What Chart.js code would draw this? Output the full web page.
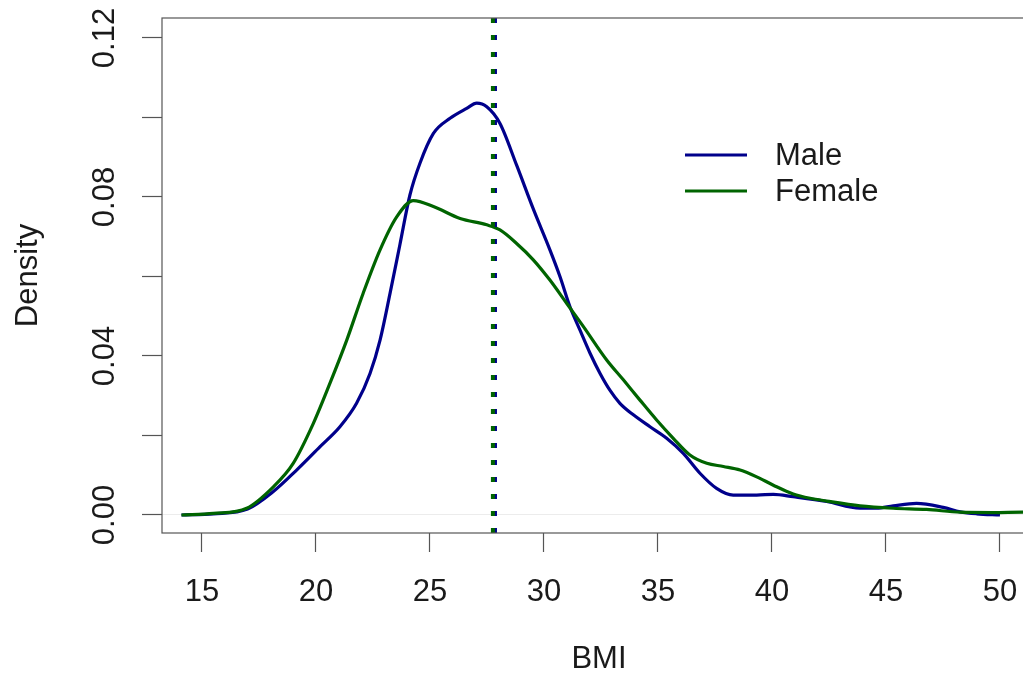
<!DOCTYPE html>
<html>
<head>
<meta charset="utf-8">
<title>BMI density by sex</title>
<script src="https://cdn.jsdelivr.net/npm/chart.js@4.4.0/dist/chart.umd.min.js"></script>
<style>
  html, body { margin: 0; padding: 0; background: #fff; overflow: hidden; }
  canvas { display: block; }
</style>
</head>
<body>
<canvas id="chart" width="1036" height="674"></canvas>
<script>
// kernel density curves (BMI on x)
const maleBmi = [14.1, 15.5, 17.0, 18.13, 19.15, 20.18, 21.05, 21.78, 22.37, 22.81, 23.25, 23.68, 24.12, 24.56,
  25.15, 25.88, 26.61, 27.05, 27.49, 28.07, 28.8, 29.53, 30.26, 30.7, 31.14, 31.58, 32.02, 32.46, 32.89, 33.33,
  33.92, 34.65, 35.38, 36.11, 36.84, 37.57, 38.3, 39.33, 40.06, 40.93, 42.4, 43.86, 44.59, 45.32, 46.34, 47.51,
  48.25, 48.98, 50.0];
const maleDensity = [0, 0.0003, 0.0015, 0.0059, 0.0113, 0.0172, 0.0222, 0.0281, 0.0356, 0.044, 0.0558, 0.068, 0.0805, 0.0885,
  0.096, 0.0998, 0.1023, 0.1036, 0.1027, 0.0985, 0.088, 0.077, 0.0667, 0.060, 0.0524, 0.0465, 0.0407, 0.0356, 0.0314, 0.0281,
  0.0252, 0.0222, 0.0193, 0.0155, 0.0105, 0.0067, 0.005, 0.005, 0.0052, 0.0046, 0.0034, 0.0017, 0.0017, 0.0023, 0.0029, 0.0019,
  0.0008, 0.0003, 0];

const femaleBmi = [14.1, 15.5, 16.96, 18.13, 19.0, 19.88, 20.61, 21.35, 22.07, 22.81, 23.54, 24.27, 25.15, 26.32,
  27.49, 28.07, 28.8, 29.53, 30.26, 31.0, 31.73, 32.75, 33.48, 34.21, 34.94, 35.67, 36.4, 37.14, 37.87, 38.6,
  39.33, 40.06, 40.93, 41.67, 42.4, 43.86, 45.32, 46.78, 48.25, 49.71, 51.0, 52.6];
const femaleDensity = [0, 0.0004, 0.0017, 0.0071, 0.013, 0.023, 0.0331, 0.044, 0.0558, 0.0667, 0.075, 0.0791, 0.0776, 0.0746,
  0.073, 0.0717, 0.0683, 0.0642, 0.0591, 0.0532, 0.0474, 0.039, 0.034, 0.0289, 0.0239, 0.0193, 0.0151, 0.013, 0.0122, 0.0113,
  0.0096, 0.0075, 0.0053, 0.0042, 0.0035, 0.0023, 0.0017, 0.0014, 0.0007, 0.0006, 0.0007, 0.0004];

// group means (dotted vertical lines)
const maleMean = 27.85;
const femaleMean = 27.76;

const seriesNames = ['Male', 'Female'];
const seriesColors = ['#00008b', '#006400'];

// axis setup: R only labels every other y tick
const xRange = [13.246, 51.58];
const yRange = [-0.00453, 0.12503];
const yTickLabels = ['0.00', '0.04', '0.08', '0.12'];

const FONT = '"Liberation Sans", Arial, Helvetica, sans-serif';
const TEXT = '#1a1a1a';
const AXIS = '#555';

Chart.defaults.font.family = FONT;
Chart.defaults.color = TEXT;

function toPoints(xs, ys) {
  return xs.map((x, i) => ({ x: x, y: ys[i] }));
}

function meanLine(x) {
  return [{ x: x, y: yRange[0] }, { x: x, y: yRange[1] }];
}

/**
 * plot box, rotated y tick labels and the boxless legend (R base style)
 */
const rStylePlugin = {
  id: 'rStyle',
  afterDraw(chart) {
    const { ctx, chartArea: a, scales } = chart;
    ctx.save();

    ctx.strokeStyle = AXIS;
    ctx.lineWidth = 1.2;
    ctx.strokeRect(a.left, a.top, a.right - a.left, a.bottom - a.top);

    // y tick labels, rotated like las = 0
    ctx.fillStyle = TEXT;
    ctx.font = '31px ' + FONT;
    ctx.textAlign = 'center';
    ctx.textBaseline = 'middle';
    scales.y.ticks.forEach(t => {
      const label = t.value.toFixed(2);
      if (!yTickLabels.includes(label)) return;
      const py = scales.y.getPixelForValue(t.value);
      ctx.save();
      ctx.translate(105, py);
      ctx.rotate(-Math.PI / 2);
      ctx.fillText(label, 0, 0);
      ctx.restore();
    });

    // legend
    ctx.textAlign = 'left';
    seriesNames.forEach((name, i) => {
      const ly = 155 + i * 36;
      ctx.strokeStyle = seriesColors[i];
      ctx.lineWidth = 3.2;
      ctx.beginPath();
      ctx.moveTo(685, ly);
      ctx.lineTo(747, ly);
      ctx.stroke();
      ctx.fillText(name, 775, ly + 1);
    });

    ctx.restore();
  }
};

new Chart(document.getElementById('chart'), {
  type: 'scatter',
  data: {
    datasets: [
      {
        label: 'Female mean',
        data: meanLine(femaleMean),
        showLine: true,
        borderColor: seriesColors[1],
        borderWidth: 4,
        borderDash: [5, 12],
        pointRadius: 0,
        order: 0
      },
      {
        label: 'Male mean',
        data: meanLine(maleMean),
        showLine: true,
        borderColor: seriesColors[0],
        borderWidth: 4,
        borderDash: [5, 12],
        pointRadius: 0,
        order: 1
      },
      {
        label: seriesNames[1],
        data: toPoints(femaleBmi, femaleDensity),
        showLine: true,
        borderColor: seriesColors[1],
        borderWidth: 3.2,
        pointRadius: 0,
        cubicInterpolationMode: 'monotone',
        order: 2
      },
      {
        label: seriesNames[0],
        data: toPoints(maleBmi, maleDensity),
        showLine: true,
        borderColor: seriesColors[0],
        borderWidth: 3.2,
        pointRadius: 0,
        cubicInterpolationMode: 'monotone',
        order: 3
      }
    ]
  },
  options: {
    responsive: false,
    animation: false,
    devicePixelRatio: 1,
    layout: { padding: { top: 18, right: 0, bottom: 0, left: 0 } },
    plugins: {
      legend: { display: false },
      tooltip: { enabled: false }
    },
    scales: {
      x: {
        type: 'linear',
        min: xRange[0],
        max: xRange[1],
        afterFit: scale => {
          scale.height = 141;
          // labels fit inside the canvas, no extra side padding needed
          scale.paddingLeft = 0;
          scale.paddingRight = 0;
        },
        ticks: {
          stepSize: 5,
          includeBounds: false,
          autoSkip: false,
          maxRotation: 0,
          padding: 25,
          color: TEXT,
          font: { size: 31, lineHeight: 1 }
        },
        grid: { drawOnChartArea: false, tickLength: 19, tickColor: AXIS, tickWidth: 1.2 },
        border: { display: false },
        title: {
          display: true,
          text: 'BMI',
          color: TEXT,
          font: { size: 31, lineHeight: 1 },
          padding: { top: 0, bottom: -1 }
        }
      },
      y: {
        type: 'linear',
        min: yRange[0],
        max: yRange[1],
        afterFit: scale => { scale.width = 162; },
        ticks: {
          stepSize: 0.02,
          includeBounds: false,
          display: false
        },
        grid: {
          drawOnChartArea: true,
          // only the faint zero line from plot.density
          color: c => (c.tick && Math.abs(c.tick.value) < 1e-9 ? '#ececec' : 'rgba(0,0,0,0)'),
          tickLength: 20,
          tickColor: AXIS,
          tickWidth: 1.2
        },
        border: { display: false },
        title: {
          display: true,
          text: 'Density',
          color: TEXT,
          font: { size: 31, lineHeight: 1 },
          padding: { top: 13, bottom: 0 }
        }
      }
    }
  },
  plugins: [rStylePlugin]
});
</script>
</body>
</html>
